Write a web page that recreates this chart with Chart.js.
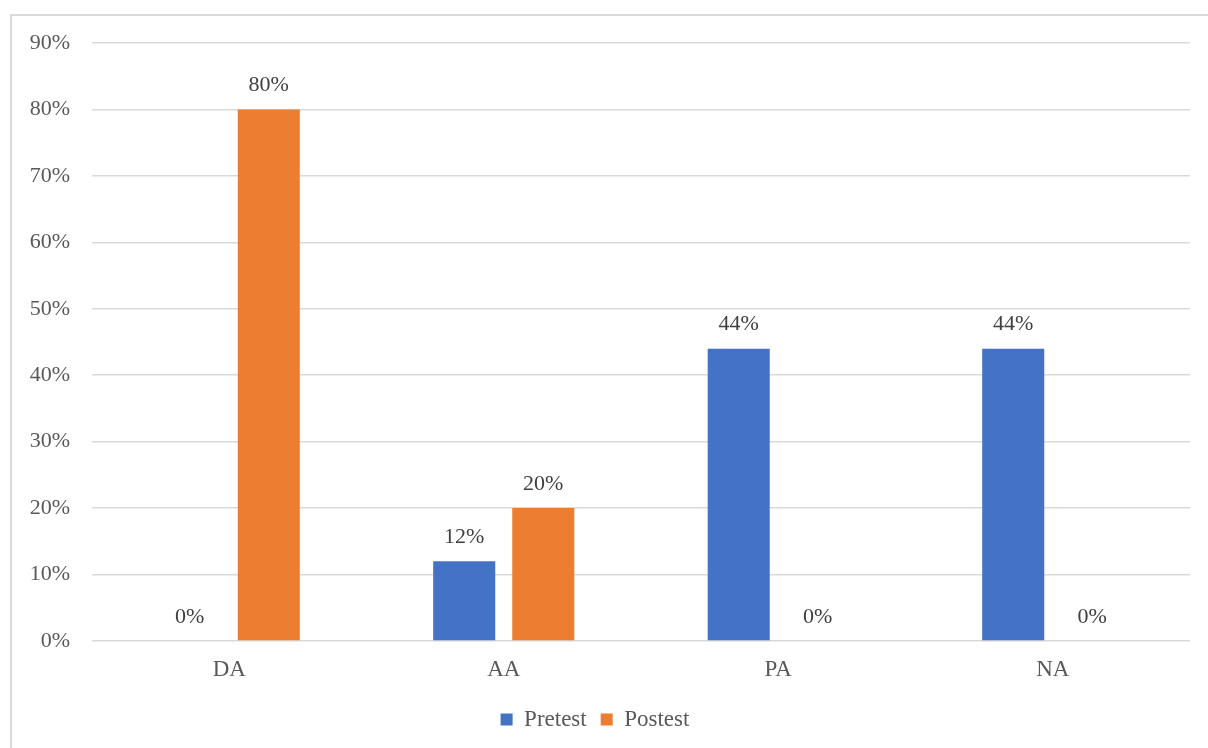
<!DOCTYPE html>
<html>
<head>
<meta charset="utf-8">
<script src="https://cdn.jsdelivr.net/npm/chart.js@4"></script>
<style>
  html, body { margin: 0; padding: 0; background: #fff; overflow: hidden; }
  #wrap { position: relative; width: 1208px; height: 748px; }
  #frame { position: absolute; left: 10px; top: 14px; width: 1300px; height: 900px; border: 2px solid #d9d9d9; box-sizing: border-box; }
  canvas { position: absolute; left: 0; top: 0; }
</style>
</head>
<body>
<div id="wrap">
  <div id="frame"></div>
  <canvas id="c" width="1208" height="748"></canvas>
</div>
<script>
const categories = ["DA", "AA", "PA", "NA"];
const pretest = [0, 12, 44, 44];
const postest = [80, 20, 0, 0];
const yTicks = [0, 10, 20, 30, 40, 50, 60, 70, 80, 90];

const FONT = "'Liberation Serif', 'Times New Roman', serif";

const dataLabels = {
  id: 'dataLabels',
  afterDatasetsDraw(chart) {
    const ctx = chart.ctx;
    ctx.save();
    ctx.font = "22px " + FONT;
    ctx.fillStyle = "#404040";
    ctx.textAlign = "center";
    ctx.textBaseline = "middle";
    chart.data.datasets.forEach((ds, i) => {
      const meta = chart.getDatasetMeta(i);
      meta.data.forEach((el, j) => {
        ctx.fillText(ds.data[j] + "%", el.x, el.y - 24);
      });
    });
    ctx.restore();
  }
};

new Chart(document.getElementById('c'), {
  type: 'bar',
  data: {
    labels: categories,
    datasets: [
      { label: 'Pretest', data: pretest, backgroundColor: '#4472C4' },
      { label: 'Postest', data: postest, backgroundColor: '#ED7D31' }
    ]
  },
  options: {
    responsive: false,
    animation: false,
    devicePixelRatio: 1,
    categoryPercentage: 0.576,
    barPercentage: 0.785,
    layout: { padding: { top: 43, right: 18, left: 0, bottom: 7 } },
    plugins: {
      legend: {
        position: 'bottom',
        labels: {
          font: { family: FONT, size: 23 },
          color: '#595959',
          boxWidth: 12,
          boxHeight: 12,
          padding: 14
        }
      },
      tooltip: { enabled: false }
    },
    scales: {
      x: {
        grid: { display: false, drawTicks: false },
        border: { display: false },
        ticks: { font: { family: FONT, size: 23 }, color: '#595959', padding: 15 },
        afterFit(s) { s.height = 53; }
      },
      y: {
        min: 0,
        max: 90,
        afterBuildTicks(s) { s.ticks = yTicks.map(v => ({ value: v })); },
        grid: { color: '#d9d9d9', lineWidth: 1.5, drawTicks: false },
        border: { display: false },
        ticks: {
          font: { family: FONT, size: 22 },
          color: '#595959',
          padding: 22,
          callback: v => v + '%'
        },
        afterFit(s) { s.width = 92; }
      }
    }
  },
  plugins: [dataLabels]
});
</script>
</body>
</html>
